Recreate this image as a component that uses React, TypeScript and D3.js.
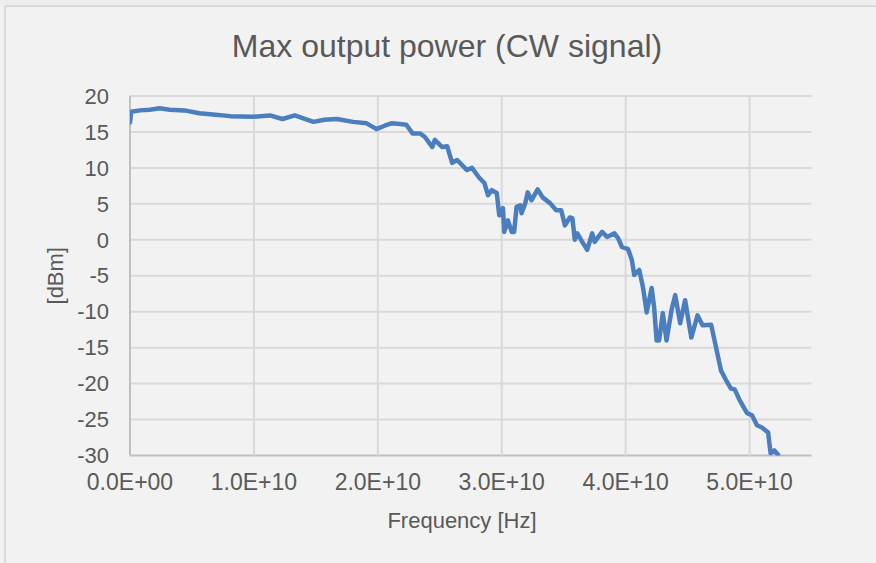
import React from "react";
import * as d3 from "d3";

const W = 876;
const H = 563;

// frequency in GHz (converted to Hz below), power in dBm
const freqGHz = [
  0.0, 0.1, 0.8, 1.6, 2.4, 3.2, 4.4, 5.6, 6.9, 8.1, 9.9, 11.3, 12.3, 13.3, 14.8, 15.7,
  16.7, 18.0, 19.1, 19.9, 20.6, 21.1, 21.8, 22.3, 22.8, 23.4, 23.8, 24.4, 24.6, 25.2,
  25.6, 26.0, 26.4, 27.2, 27.6, 28.2, 28.6, 28.9, 29.2, 29.6, 29.8, 30.1, 30.2, 30.5,
  30.8, 31.0, 31.2, 31.5, 31.6, 31.9, 32.1, 32.4, 32.9, 33.3, 33.9, 34.4, 34.8, 35.1,
  35.5, 35.7, 35.9, 36.1, 36.5, 36.9, 37.3, 37.5, 38.1, 38.5, 39.1, 39.4, 39.7, 40.2,
  40.5, 40.7, 41.1, 41.4, 41.7, 42.1, 42.3, 42.5, 42.7, 43.0, 43.3, 43.7, 44.0, 44.4,
  44.8, 45.3, 45.8, 46.2, 46.9, 47.3, 47.7, 48.1, 48.5, 48.8, 49.2, 49.8, 50.2, 50.6,
  51.0, 51.5, 51.7, 52.0, 52.3,
];
const powerDbm = [
  16.3, 17.8, 18.0, 18.1, 18.3, 18.1, 18.0, 17.6, 17.4, 17.2, 17.1, 17.3, 16.8, 17.3, 16.4, 16.7,
  16.8, 16.4, 16.2, 15.4, 15.9, 16.2, 16.1, 16.0, 14.8, 14.8, 14.3, 12.9, 13.9, 12.9,
  13.0, 10.7, 11.1, 9.7, 10.0, 8.6, 7.9, 6.2, 6.9, 6.5, 3.4, 4.4, 1.1, 2.7,
  1.1, 1.1, 4.6, 4.8, 3.7, 5.1, 6.6, 5.5, 7.0, 5.9, 5.1, 4.1, 4.1, 2.0,
  3.1, 3.0, 0.0, 0.9, -0.3, -1.4, 0.9, -0.3, 1.1, 0.4, 0.9, 0.2, -1.0, -1.3,
  -2.8, -4.9, -4.2, -6.6, -10.1, -6.7, -9.4, -14.0, -14.0, -10.2, -14.0, -9.8, -7.7, -11.6,
  -8.4, -13.6, -10.5, -11.9, -11.8, -15.0, -18.2, -19.5, -20.7, -20.8, -22.3, -24.1, -24.4, -25.8,
  -26.1, -26.8, -29.7, -29.3, -29.9,
];

const xTicks = [0, 1e10, 2e10, 3e10, 4e10, 5e10];
const yTicks = [20, 15, 10, 5, 0, -5, -10, -15, -20, -25, -30];

const titleText = "Max output power (CW signal)";
const xTitle = "Frequency [Hz]";
const yTitle = "[dBm]";

const left = 130;
const right = 811.5;
const top = 96;
const bottom = 455.5;

const font = "'Liberation Sans', Arial, sans-serif";
const textColor = "#595959";

function fmtX(v: number) {
  if (v === 0) return "0.0E+00";
  const e = Math.floor(Math.log10(v));
  const m = v / Math.pow(10, e);
  return `${m.toFixed(1)}E+${String(e).padStart(2, "0")}`;
}

export default function App() {
  const x = d3.scaleLinear().domain([0, 5.5e10]).range([left, right]);
  const y = d3.scaleLinear().domain([-30, 20]).range([bottom, top]);
  const data = freqGHz.map((f, i) => [f * 1e9, powerDbm[i]] as [number, number]);
  const line = d3
    .line<[number, number]>()
    .x((d) => x(d[0]))
    .y((d) => y(d[1]))
    .curve(d3.curveLinear);

  return (
    <svg
      width={W}
      height={H}
      style={{ position: "absolute", left: 0, top: 0, display: "block" }}
    >
      <rect x={0} y={0} width={W} height={H} fill="#f2f2f2" />
      <rect x={0} y={0} width={W} height={5} fill="#eeeeee" />
      <line x1={5} y1={6} x2={W} y2={6} stroke="#d9d9d9" strokeWidth={2} />
      <line x1={5} y1={6} x2={5} y2={H} stroke="#d9d9d9" strokeWidth={2} />

      <defs>
        <clipPath id="plotClip">
          <rect x={left} y={top - 3} width={right - left} height={bottom - top + 3} />
        </clipPath>
      </defs>

      {/* gridlines */}
      {yTicks.map((t) => (
        <line
          key={"gy" + t}
          x1={left}
          x2={right}
          y1={y(t)}
          y2={y(t)}
          stroke={t === -30 ? "#bfbfbf" : "#d9d9d9"}
          strokeWidth={2}
        />
      ))}
      {xTicks.map((t) => (
        <line
          key={"gx" + t}
          x1={x(t)}
          x2={x(t)}
          y1={top}
          y2={bottom}
          stroke={t === 0 ? "#bfbfbf" : "#d9d9d9"}
          strokeWidth={2}
        />
      ))}

      {/* series */}
      <path
        d={line(data) || ""}
        fill="none"
        stroke="#4a7ebf"
        strokeWidth={4.5}
        strokeLinejoin="round"
        strokeLinecap="round"
        clipPath="url(#plotClip)"
      />

      {/* y tick labels */}
      {yTicks.map((t) => (
        <text
          key={"ty" + t}
          x={109}
          y={y(t)}
          dy="0.35em"
          textAnchor="end"
          fontFamily={font}
          fontSize={22}
          fill={textColor}
        >
          {t}
        </text>
      ))}

      {/* x tick labels */}
      {xTicks.map((t) => (
        <text
          key={"tx" + t}
          x={x(t)}
          y={490}
          textAnchor="middle"
          fontFamily={font}
          fontSize={23}
          fill={textColor}
        >
          {fmtX(t)}
        </text>
      ))}

      {/* titles */}
      <text
        x={447}
        y={57}
        textAnchor="middle"
        fontFamily={font}
        fontSize={32}
        fill={textColor}
      >
        {titleText}
      </text>
      <text
        x={462}
        y={528}
        textAnchor="middle"
        fontFamily={font}
        fontSize={22}
        fill={textColor}
      >
        {xTitle}
      </text>
      <text
        transform={`translate(63, ${(top + bottom) / 2}) rotate(-90)`}
        textAnchor="middle"
        fontFamily={font}
        fontSize={22}
        fill={textColor}
      >
        {yTitle}
      </text>
    </svg>
  );
}
